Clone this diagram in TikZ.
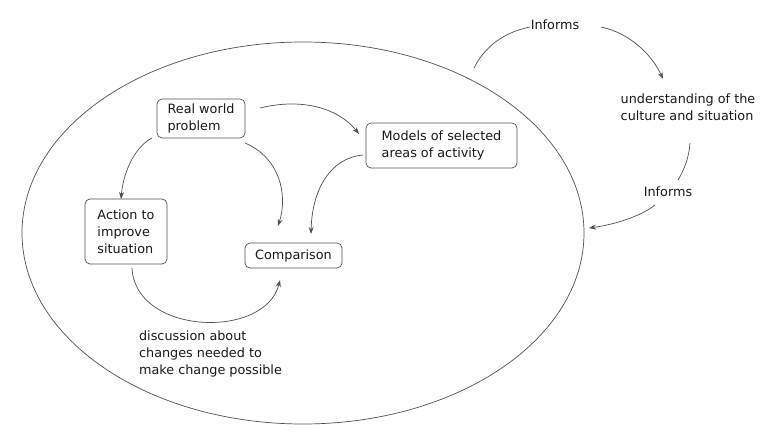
\documentclass[tikz,border=0pt]{standalone}
\usepackage{fontspec}
\setmainfont{DejaVu Sans}
\usetikzlibrary{shapes.geometric,arrows.meta}
\definecolor{linec}{HTML}{505050}
\definecolor{textc}{HTML}{1A1A1A}
\begin{document}
\begin{tikzpicture}[x=1pt,y=-1pt,
  every node/.style={font=\fontsize{12.8}{17}\selectfont, text=textc},
  box/.style={draw=linec, rounded corners=5pt, line width=0.7pt, align=left, inner sep=0pt},
  lbl/.style={align=left, inner sep=0pt},
  conn/.style={draw=linec, line width=0.7pt},
  arr/.style={conn, -{Stealth[length=7pt,width=5pt]}}]
\useasboundingbox (0,0) rectangle (768,438);
\fill[white] (0,0) rectangle (768,438);
\node[draw=linec, line width=0.7pt, ellipse, minimum width=562pt, minimum height=382pt, inner sep=0pt] (ell) at (303,233) {};
\node[box, minimum width=88pt, minimum height=39pt] (rwp) at (201,118.5) {Real world\\problem};
\node[box, minimum width=151pt, minimum height=45pt] (mod) at (441.5,145.5) {Models of selected\\areas of activity};
\node[box, minimum width=82pt, minimum height=65pt] (act) at (126,231.5) {Action to\\improve\\situation};
\node[box, minimum width=97pt, minimum height=25pt] (cmp) at (293.5,255.5) {Comparison};
\node[lbl] (und) at (688,107) {understanding of the\\culture and situation};
\node[lbl] (inf1) at (555,25) {Informs};
\node[lbl] (inf2) at (668,192) {Informs};
\node[lbl] (dis) at (210.5,354) {discussion about\\changes needed to\\make change possible};
% connector end points
\coordinate (a1) at (260,108); \coordinate (b1) at (359,134);
\coordinate (a2) at (245,143); \coordinate (b2) at (278,226);
\coordinate (a3) at (152,138); \coordinate (b3) at (121,199);
\coordinate (a4) at (363,155); \coordinate (b4) at (311,234);
\coordinate (a5) at (132,268); \coordinate (b5) at (280,280);
\coordinate (a6) at (474,68);  \coordinate (b6) at (530,27);
\coordinate (a7) at (601,27);  \coordinate (b7) at (663,79);
\coordinate (a8) at (690,143); \coordinate (b8) at (678,180);
\coordinate (a9) at (655,205); \coordinate (b9) at (589,228);
\draw[arr] (a1) .. controls (305,97) and (340,110) .. (b1);
\draw[arr] (a2) .. controls (280,158) and (288,195) .. (b2);
\draw[arr] (a3) .. controls (133,148) and (123,175) .. (b3);
\draw[arr] (a4) .. controls (330,158) and (312,190) .. (b4);
\draw[arr] (a5) .. controls (135,335) and (265,340) .. (b5);
\draw[conn] (a6) .. controls (487,42) and (510,31) .. (b6);
\draw[arr] (a7) .. controls (630,33) and (652,55) .. (b7);
\draw[conn] (a8) .. controls (689,158) and (684,170) .. (b8);
\draw[arr] (a9) .. controls (640,217) and (612,225) .. (b9);
\end{tikzpicture}
\end{document}
